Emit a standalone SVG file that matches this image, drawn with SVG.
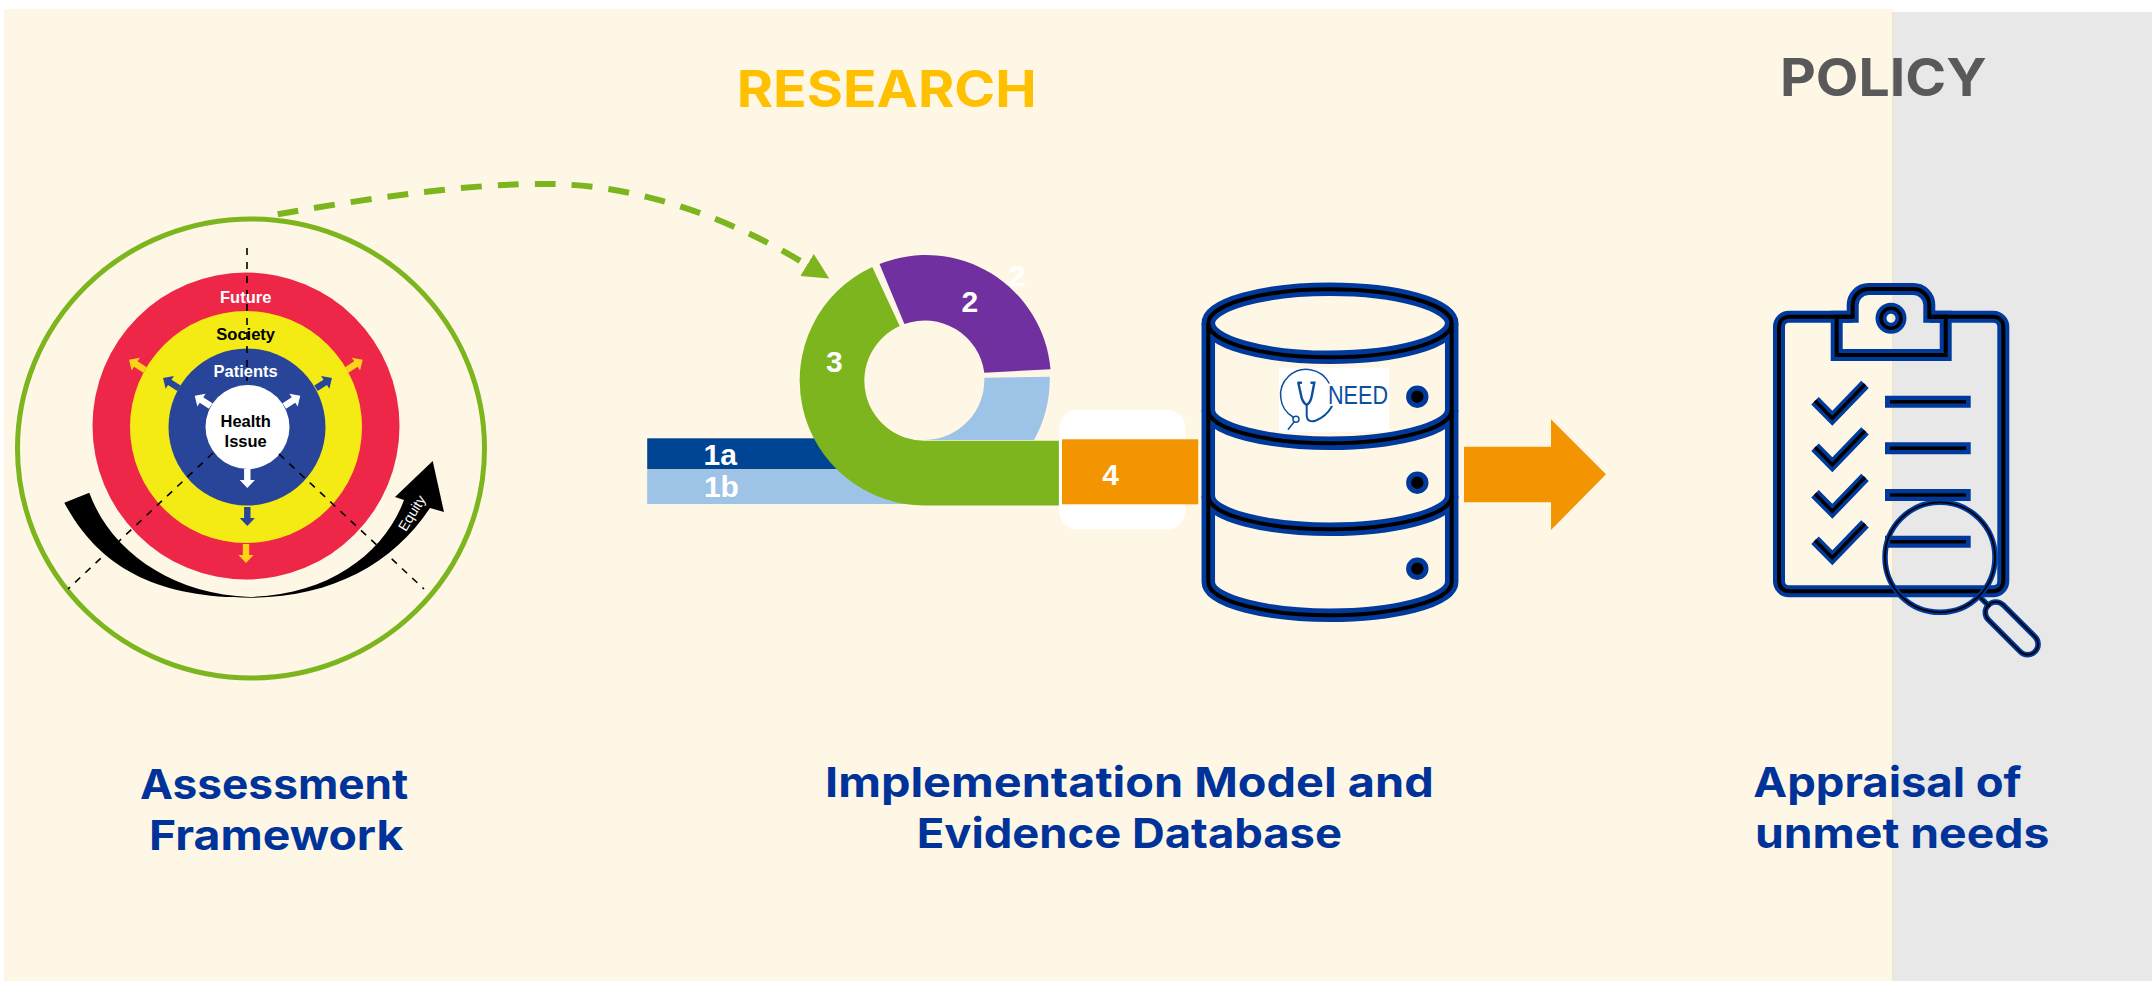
<svg xmlns="http://www.w3.org/2000/svg" xmlns:xlink="http://www.w3.org/1999/xlink" width="2152" height="981" viewBox="0 0 2152 981">
<style>
.sans{font-family:"Liberation Sans",Arial,sans-serif}
.b{font-weight:700}
.title{font-family:Inter,"Open Sans",sans-serif;font-weight:700}
.blue{fill:#003399}
.num{font-family:"Liberation Sans",Arial,sans-serif;font-weight:700;font-size:30px;fill:#fff;text-anchor:middle}
.ring{font-family:"Liberation Sans",Arial,sans-serif;font-weight:700;font-size:16.5px;text-anchor:middle}
.dash{stroke:#000;stroke-width:1.6;stroke-dasharray:7 7;fill:none}
.outer{fill:none;stroke:#003A9C;stroke-linejoin:miter}
.core{fill:none;stroke:#000;stroke-linejoin:miter}
</style>
<defs>
<marker id="gh" markerUnits="userSpaceOnUse" markerWidth="27" markerHeight="27" refX="0" refY="13" orient="auto"><path d="M0,0L26,13L0,26Z" fill="#7CB51E"/></marker>
<polygon id="sa" points="-3.2,0 3.2,0 3.2,11 7.6,11 0,19 -7.6,11 -3.2,11"/>
<g id="dbs">
<ellipse cx="1330" cy="323.3" rx="121.7" ry="34"/>
<path d="M1208.3,323.3V582C1208.3,602 1270,615.3 1330,615.3C1390,615.3 1451.7,602 1451.7,582V323.3"/>
<path d="M1208.3,410C1208.3,430 1270,443.3 1330,443.3C1390,443.3 1451.7,430 1451.7,410"/>
<path d="M1208.3,496C1208.3,516 1270,529.3 1330,529.3C1390,529.3 1451.7,516 1451.7,496"/>
</g>
<g id="clip">
<path d="M1852.7,316.7H1789a10,10 0 0 0 -10,10V581.3a10,10 0 0 0 10,10H1993.3a10,10 0 0 0 10,-10V326.7a10,10 0 0 0 -10,-10H1929.3V305a16,16 0 0 0 -16,-16H1868.7a16,16 0 0 0 -16,16Z"/>
<path d="M1852.7,316.7H1836.7V355H1945.7V316.7H1929.3"/>
</g>
<path id="chk" d="M1815,400.7L1832.3,418.3L1865,384.3"/>
<g id="mag">
<circle cx="1940" cy="557.3" r="55"/>
<path d="M1980,597.3L1990,607"/>
<rect x="-33" y="-10.5" width="66" height="21" rx="10.5" transform="translate(2011.7,628.3) rotate(45)"/>
</g>
</defs>

<g id="background">
<rect width="2152" height="981" fill="#fff"/>
<rect x="4" y="9" width="1890" height="972" fill="#FFF7E6"/>
<rect x="1892" y="12" width="260" height="969" fill="#E8E8E8"/>
<rect x="1892" y="12" width="2" height="969" fill="#EDE6D8"/>
</g>

<text class="title" x="736.7" y="106.7" font-size="51" textLength="300" lengthAdjust="spacingAndGlyphs" fill="#FFC000">RESEARCH</text>
<text class="title" x="1780" y="95.7" font-size="52" textLength="206.7" lengthAdjust="spacingAndGlyphs" fill="#595959">POLICY</text>

<g id="assessment-framework">
<ellipse cx="251" cy="448.5" rx="233.5" ry="229.5" fill="none" stroke="#7CB51E" stroke-width="5"/>
<circle cx="246" cy="426" r="153.5" fill="#EE2647"/>
<circle cx="246" cy="427" r="116" fill="#F4EB14"/>
<circle cx="247" cy="427" r="78.5" fill="#284599"/>
<circle cx="247.5" cy="427" r="42" fill="#fff"/>
<path class="dash" d="M247,248V385"/>
<path class="dash" d="M213,453L68,589"/>
<path class="dash" d="M279,454L424,589"/>
<g fill="#fff">
<use xlink:href="#sa" href="#sa" transform="translate(247.3,469)"/>
<use xlink:href="#sa" href="#sa" transform="translate(210.7,406) rotate(123)"/>
<use xlink:href="#sa" href="#sa" transform="translate(284.3,406) rotate(-123)"/>
</g>
<g fill="#284599">
<use xlink:href="#sa" href="#sa" transform="translate(247.3,507)"/>
<use xlink:href="#sa" href="#sa" transform="translate(179,388.3) rotate(123)"/>
<use xlink:href="#sa" href="#sa" transform="translate(316,388.3) rotate(-123)"/>
</g>
<g fill="#FFD21A">
<use xlink:href="#sa" href="#sa" transform="translate(246,544)"/>
<use xlink:href="#sa" href="#sa" transform="translate(145,370) rotate(123)"/>
<use xlink:href="#sa" href="#sa" transform="translate(346.7,370) rotate(-123)"/>
</g>
<path fill="#000" d="M64.3,502.7L89.3,492.7C110,550 170,594 250,597C330,595 385,552 404,500L395,497L432.7,461L444,512L430,508C392,565 330,597.7 250,597.7C160,597.7 100,570 64.3,502.7Z"/>
<text class="ring" x="245.7" y="302.7" fill="#fff">Future</text>
<text class="ring" x="245.7" y="340" fill="#000">Society</text>
<text class="ring" x="245.7" y="376.7" fill="#fff">Patients</text>
<text class="ring" x="245.7" y="426.7" fill="#000">Health</text>
<text class="ring" x="245.7" y="446.5" fill="#000">Issue</text>
<text class="sans" font-size="14" fill="#fff" text-anchor="middle" transform="translate(411.7,513) rotate(-58)" dy="5">Equity</text>
</g>

<g id="implementation-model">
<rect x="647.2" y="438.3" width="210" height="31" fill="#004494"/>
<rect x="647.2" y="470" width="278" height="34" fill="#9DC3E6"/>
<path d="M879.5,264A125,125 0 0 1 1050.5,369.3L984.3,372.7A60,60 0 0 0 904.4,324.1Z" fill="#70309F"/>
<path d="M984.3,377.7L1049.7,376.7A125,125 0 0 1 1034,440H925A60,60 0 0 0 984.3,377.7Z" fill="#9DC3E6"/>
<path d="M872.3,267A125,125 0 0 0 925,505.5H1058.9V440.7H925A60,60 0 0 1 899.7,326Z" fill="#7CB51E"/>
<rect x="1059.3" y="410" width="126" height="119.3" rx="18" fill="#fff"/>
<rect x="1062" y="439.3" width="136.2" height="65" fill="#F39500"/>
<text class="num" x="720.3" y="465">1a</text>
<text class="num" x="721.4" y="497">1b</text>
<text class="num" x="834.3" y="372">3</text>
<text class="num" x="969.8" y="312">2</text>
<text class="num" x="1017.2" y="285.7">2</text>
<text class="num" x="1110.6" y="485">4</text>
</g>

<g id="evidence-database">
<use xlink:href="#dbs" href="#dbs" class="outer" stroke-width="13.5"/>
<use xlink:href="#dbs" href="#dbs" class="core" stroke-width="4"/>
<g fill="#000" stroke="#003A9C" stroke-width="5">
<circle cx="1417.3" cy="396.7" r="8.7"/>
<circle cx="1417.3" cy="482.7" r="8.7"/>
<circle cx="1417.3" cy="568.7" r="8.7"/>
</g>
<g id="need-logo">
<rect x="1279" y="367.7" width="110" height="64.3" fill="#fff"/>
<g fill="none" stroke="#0B4F9E" stroke-width="1.5" stroke-linecap="round">
<path d="M1293,417A25.7,25.7 0 1 1 1329,383"/>
<path stroke-width="2.4" d="M1298.3,382.7H1301M1298.3,382.7L1301,395C1302,401 1305,404 1306.7,405C1308.5,404 1311,401 1312,395L1314.3,382.7H1311.5"/>
<path stroke-width="2" d="M1306.7,405V415C1306.7,422 1312,422 1316,420.5C1322,418 1328,413 1331.7,406.7"/>
<circle cx="1296" cy="419.3" r="3"/>
<path d="M1294,422L1288.3,429.3"/>
</g>
<text class="sans" x="1328" y="404" font-size="26" textLength="60" lengthAdjust="spacingAndGlyphs" fill="#0B4F9E">NEED</text>
</g>
</g>

<g id="appraisal-clipboard">
<use xlink:href="#clip" href="#clip" class="outer" stroke-width="12"/>
<use xlink:href="#clip" href="#clip" class="core" stroke-width="4"/>
<circle cx="1891" cy="318.3" r="10" class="outer" stroke-width="11"/>
<circle cx="1891" cy="318.3" r="10" class="core" stroke-width="3.5"/>
<g class="outer" stroke-width="10.5">
<use xlink:href="#chk" href="#chk"/>
<use xlink:href="#chk" href="#chk" y="46.5"/>
<use xlink:href="#chk" href="#chk" y="93"/>
<use xlink:href="#chk" href="#chk" y="139.5"/>
<path d="M1885,401.7H1970.7M1885,448.3H1970.7M1885,495H1970.7M1885,541.7H1970.7" stroke-width="12"/>
</g>
<g class="core" stroke-width="3.5">
<use xlink:href="#chk" href="#chk"/>
<use xlink:href="#chk" href="#chk" y="46.5"/>
<use xlink:href="#chk" href="#chk" y="93"/>
<use xlink:href="#chk" href="#chk" y="139.5"/>
<path d="M1890,401.7H1966M1890,448.3H1966M1890,495H1966M1890,541.7H1966" />
</g>
<use xlink:href="#mag" href="#mag" class="outer" stroke-width="5.5"/>
<use xlink:href="#mag" href="#mag" class="core" stroke-width="1.8"/>
</g>

<g id="connectors">
<path d="M277.7,214.3C370,198 470,183 550,184C632,185 722,213 807,265" fill="none" stroke="#7CB51E" stroke-width="6" stroke-dasharray="21 16" marker-end="url(#gh)"/>
<polygon points="1464,446.7 1551,446.7 1551,419.3 1606,474.3 1551,530 1551,502.3 1464,502.3" fill="#F39500"/>
</g>

<g id="labels" class="title blue">
<text x="140" y="799.3" font-size="41" textLength="268.3" lengthAdjust="spacingAndGlyphs">Assessment</text>
<text x="149" y="850" font-size="41" textLength="254.3" lengthAdjust="spacingAndGlyphs">Framework</text>
<text x="825" y="797.3" font-size="41" textLength="608.7" lengthAdjust="spacingAndGlyphs">Implementation Model and</text>
<text x="916.7" y="848.3" font-size="41" textLength="425.3" lengthAdjust="spacingAndGlyphs">Evidence Database</text>
<text x="1753.3" y="797.3" font-size="41" textLength="268.4" lengthAdjust="spacingAndGlyphs">Appraisal of</text>
<text x="1755" y="848.3" font-size="41" textLength="294.3" lengthAdjust="spacingAndGlyphs">unmet needs</text>
</g>
</svg>
